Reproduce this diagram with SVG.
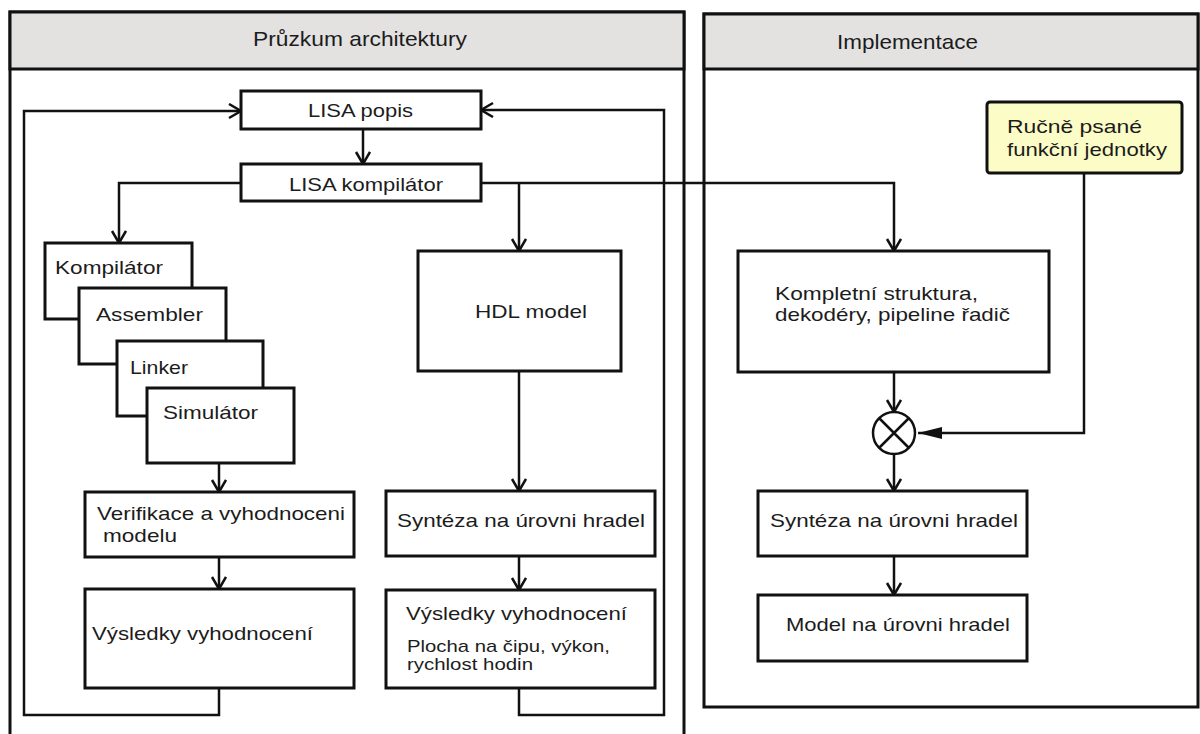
<svg xmlns="http://www.w3.org/2000/svg" width="1200" height="734" viewBox="0 0 1200 734">
  <style>
    .lane { fill: #ffffff; stroke: #111; stroke-width: 3; }
    .head { fill: #e3e2e1; stroke: #111; stroke-width: 3; }
    .box { fill: #ffffff; stroke: #111; stroke-width: 3; }
    .note { fill: #fcfcc6; stroke: #111; stroke-width: 3; }
    .wire { fill: none; stroke: #111; stroke-width: 2.5; }
    text { font-family: "Liberation Sans", Arial, sans-serif; font-size: 19px; fill: #1c1c1c; }
    .title { font-size: 21px; }
    .small { font-size: 17px; }
  </style>
  <defs>
    <marker id="open" markerUnits="userSpaceOnUse" markerWidth="16" markerHeight="18" refX="13" refY="8" orient="auto">
      <path d="M1,1 L13,8 L1,15" fill="none" stroke="#111" stroke-width="2.5"/>
    </marker>
    <marker id="solid" markerUnits="userSpaceOnUse" markerWidth="26" markerHeight="16" refX="24" refY="8" orient="auto">
      <path d="M0,2 L24,8 L0,14 Z" fill="#111"/>
    </marker>
  </defs>

  <!-- swimlanes -->
  <g id="lane-pruzkum">
    <path class="lane" d="M10,740 V12 H684 V740"/>
    <rect class="head" x="10" y="12" width="674" height="57"/>
    <text class="title" x="253" y="46" textLength="214" lengthAdjust="spacingAndGlyphs">Průzkum architektury</text>
  </g>
  <g id="lane-implementace">
    <rect class="lane" x="704" y="14" width="494" height="693"/>
    <rect class="head" x="704" y="14" width="494" height="55"/>
    <text class="title" x="837" y="49" textLength="141" lengthAdjust="spacingAndGlyphs">Implementace</text>
  </g>

  <!-- connectors -->
  <g id="connectors">
    <polyline class="wire" points="363,129 363,164" marker-end="url(#open)"/>
    <polyline class="wire" points="241,183 119,183 119,243" marker-end="url(#open)"/>
    <polyline class="wire" points="481,183 894,183 894,251" marker-end="url(#open)"/>
    <polyline class="wire" points="519,183 519,251" marker-end="url(#open)"/>
    <polyline class="wire" points="519,371 519,491" marker-end="url(#open)"/>
    <polyline class="wire" points="519,556 519,590" marker-end="url(#open)"/>
    <polyline class="wire" points="519,688 519,715 664,715 664,110 481,110" marker-end="url(#open)"/>
    <polyline class="wire" points="219,688 219,715 24,715 24,111 241,111" marker-end="url(#open)"/>
    <polyline class="wire" points="219,463 219,492" marker-end="url(#open)"/>
    <polyline class="wire" points="219,557 219,589" marker-end="url(#open)"/>
    <polyline class="wire" points="894,372 894,412" marker-end="url(#open)"/>
    <polyline class="wire" points="1084,173 1084,433 918,433" marker-end="url(#solid)"/>
    <polyline class="wire" points="894,453 894,491" marker-end="url(#open)"/>
    <polyline class="wire" points="894,556 894,595" marker-end="url(#open)"/>
  </g>

  <!-- nodes -->
  <g id="lisa-popis">
    <rect class="box" x="241" y="91" width="240" height="38"/>
    <text x="308" y="117" textLength="105" lengthAdjust="spacingAndGlyphs">LISA popis</text>
  </g>
  <g id="lisa-kompilator">
    <rect class="box" x="241" y="164" width="240" height="37"/>
    <text x="289" y="191" textLength="154" lengthAdjust="spacingAndGlyphs">LISA kompilátor</text>
  </g>
  <g id="kompilator">
    <rect class="box" x="45" y="243" width="147" height="76"/>
    <text x="55" y="274" textLength="108" lengthAdjust="spacingAndGlyphs">Kompilátor</text>
  </g>
  <g id="assembler">
    <rect class="box" x="79" y="288" width="147" height="76"/>
    <text x="96" y="321" textLength="107" lengthAdjust="spacingAndGlyphs">Assembler</text>
  </g>
  <g id="linker">
    <rect class="box" x="117" y="341" width="146" height="75"/>
    <text x="130" y="374" textLength="58" lengthAdjust="spacingAndGlyphs">Linker</text>
  </g>
  <g id="simulator">
    <rect class="box" x="147" y="388" width="147" height="75"/>
    <text x="163" y="419" textLength="95" lengthAdjust="spacingAndGlyphs">Simulátor</text>
  </g>
  <g id="verifikace">
    <rect class="box" x="85" y="492" width="269" height="65"/>
    <text x="97" y="520" textLength="248" lengthAdjust="spacingAndGlyphs">Verifikace a vyhodnoceni</text>
    <text x="103" y="542" textLength="74" lengthAdjust="spacingAndGlyphs">modelu</text>
  </g>
  <g id="vysledky-sw">
    <rect class="box" x="85" y="589" width="269" height="99"/>
    <text x="92" y="640" textLength="221" lengthAdjust="spacingAndGlyphs">Výsledky vyhodnocení</text>
  </g>
  <g id="hdl-model">
    <rect class="box" x="418" y="251" width="203" height="120"/>
    <text x="475" y="318" textLength="112" lengthAdjust="spacingAndGlyphs">HDL model</text>
  </g>
  <g id="synteza-hdl">
    <rect class="box" x="386" y="491" width="269" height="65"/>
    <text x="397" y="527" textLength="248" lengthAdjust="spacingAndGlyphs">Syntéza na úrovni hradel</text>
  </g>
  <g id="vysledky-hdl">
    <rect class="box" x="386" y="590" width="269" height="98"/>
    <text x="406" y="620" textLength="221" lengthAdjust="spacingAndGlyphs">Výsledky vyhodnocení</text>
    <text class="small" x="407" y="652" textLength="203" lengthAdjust="spacingAndGlyphs">Plocha na čipu, výkon,</text>
    <text class="small" x="407" y="670" textLength="126" lengthAdjust="spacingAndGlyphs">rychlost hodin</text>
  </g>
  <g id="kompletni-struktura">
    <rect class="box" x="738" y="251" width="311" height="121"/>
    <text x="775" y="300" textLength="203" lengthAdjust="spacingAndGlyphs">Kompletní struktura,</text>
    <text x="775" y="321" textLength="235" lengthAdjust="spacingAndGlyphs">dekodéry, pipeline řadič</text>
  </g>
  <g id="rucne-psane">
    <rect class="note" x="987" y="102" width="195" height="71" rx="3"/>
    <text x="1007" y="133" textLength="135" lengthAdjust="spacingAndGlyphs">Ručně psané</text>
    <text x="1007" y="156" textLength="160" lengthAdjust="spacingAndGlyphs">funkční jednotky</text>
  </g>
  <g id="spojeni">
    <circle cx="894" cy="433" r="21" fill="#fff" stroke="#111" stroke-width="2.5"/>
    <path d="M879,418 L909,448 M909,418 L879,448" stroke="#111" stroke-width="2.5"/>
  </g>
  <g id="synteza-impl">
    <rect class="box" x="758" y="491" width="269" height="65"/>
    <text x="770" y="527" textLength="248" lengthAdjust="spacingAndGlyphs">Syntéza na úrovni hradel</text>
  </g>
  <g id="model-hradel">
    <rect class="box" x="758" y="595" width="269" height="66"/>
    <text x="786" y="631" textLength="224" lengthAdjust="spacingAndGlyphs">Model na úrovni hradel</text>
  </g>
</svg>
